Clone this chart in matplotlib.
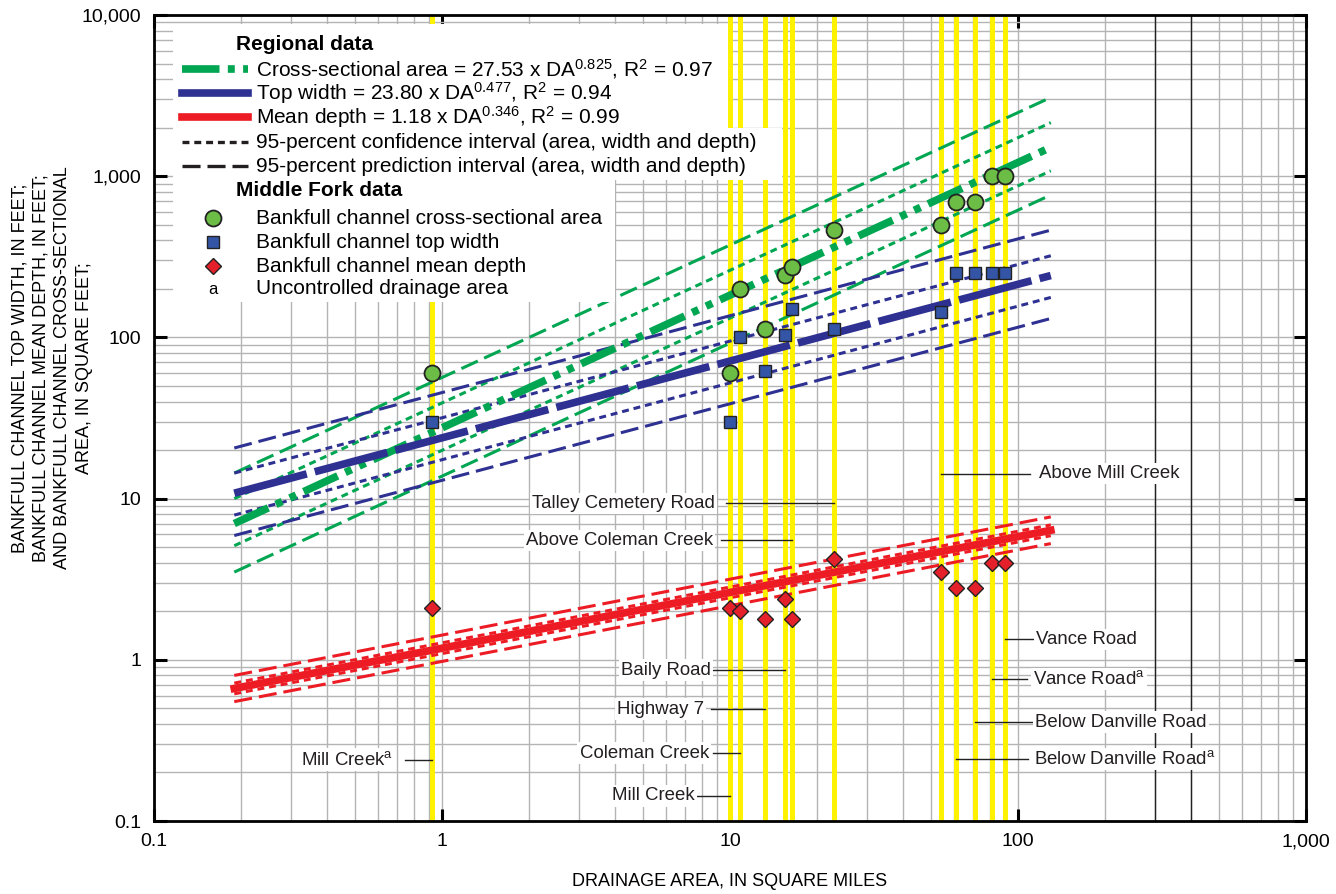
"""Bankfull channel geometry vs drainage area, Middle Fork."""
import matplotlib
matplotlib.use("Agg")
import matplotlib.pyplot as plt
from matplotlib.lines import Line2D
from matplotlib.patches import Rectangle
from matplotlib.ticker import FixedLocator, LogLocator, NullFormatter

plt.rcParams['font.family'] = ['Liberation Sans', 'DejaVu Sans']
plt.rcParams['mathtext.fontset'] = 'custom'
plt.rcParams['mathtext.rm'] = 'Liberation Sans'
plt.rcParams['mathtext.it'] = 'Liberation Sans:italic'
plt.rcParams['mathtext.bf'] = 'Liberation Sans:bold'
plt.rcParams['lines.scale_dashes'] = False

# --- Middle Fork stations (drainage area, sq mi) ---
station_da = [0.925, 10.0, 10.85, 13.2, 15.5, 16.4, 23.0, 54.0, 61.0, 71.0, 81.0, 90.0]
station_names = ["Mill Creek$^{\\rm a}$", "Mill Creek", "Coleman Creek", "Highway 7",
                 "Baily Road", "Above Coleman Creek", "Talley Cemetery Road",
                 "Above Mill Creek", "Below Danville Road$^{\\rm a}$",
                 "Below Danville Road", "Vance Road$^{\\rm a}$", "Vance Road"]
area = [60, 60, 200, 113, 245, 275, 465, 500, 690, 690, 1000, 1000]
top_width = [30, 30, 100, 62, 104, 151, 112, 143, 250, 250, 250, 250]
mean_depth = [2.1, 2.1, 2.0, 1.8, 2.4, 1.8, 4.2, 3.5, 2.8, 2.8, 4.0, 4.0]

# --- Regional curves, read at both ends of the line ---
fit_da = [0.19, 130]
area_fit = [7.0, 1510]
area_conf_hi = [10.0, 2150]
area_conf_lo = [5.1, 1080]
area_pred_hi = [14.4, 3080]
area_pred_lo = [3.5, 765]
width_fit = [10.8, 242]
width_conf_hi = [14.4, 321]
width_conf_lo = [7.9, 177]
width_pred_hi = [20.6, 463]
width_pred_lo = [5.9, 131]
depth_fit = [0.664, 6.36]
depth_conf_hi = [0.717, 6.87]
depth_conf_lo = [0.615, 5.89]
depth_pred_hi = [0.80, 7.7]
depth_pred_lo = [0.55, 5.26]

x_ticks = [0.1, 1, 10, 100, 1000]
x_ticklabels = ["0.1", "1", "10", "100", "1,000"]
y_ticks = [0.1, 1, 10, 100, 1000, 10000]
y_ticklabels = ["0.1", "1", "10", "100", "1,000", "10,000"]

GREEN = "#00A651"
BLUE = "#2E3192"
RED = "#ED1C24"
YELLOW = "#FFF200"

W, H = 1336, 894
fig = plt.figure(figsize=(W / 100, H / 100), dpi=100)
ax = fig.add_axes([154 / W, 1 - 821 / H, (1306 - 154) / W, (821 - 15) / H])
ax.set_xscale("log")
ax.set_yscale("log")
ax.set_xlim(0.1, 1000)
ax.set_ylim(0.1, 10000)

ax.xaxis.set_major_locator(FixedLocator(x_ticks))
ax.set_xticklabels(x_ticklabels)
ax.yaxis.set_major_locator(FixedLocator(y_ticks))
ax.set_yticklabels(y_ticklabels)
for a in (ax.xaxis, ax.yaxis):
    a.set_minor_locator(LogLocator(base=10, subs=range(2, 10), numticks=20))
    a.set_minor_formatter(NullFormatter())
ax.tick_params(which="major", direction="in", length=9, width=2.2,
               top=True, right=True, labelsize=14, pad=9)
ax.tick_params(which="minor", length=0)
ax.grid(which="both", color="#b4b4b4", lw=1.0)
ax.set_axisbelow(True)
for s in ax.spines.values():
    s.set_linewidth(2.0)

# station lines
for d in station_da:
    ax.axvline(d, color=YELLOW, lw=3.6, zorder=1)
for d in (300, 400):
    ax.axvline(d, color="#222222", lw=1.0, zorder=1.2)

conf_dash = (5, 3.5)
pred_dash = (13, 5)


def curves(fit, chi, clo, phi, plo, color, fit_style):
    for vals in (phi, plo):
        ax.plot(fit_da, vals, color=color, lw=2.2, dashes=pred_dash, zorder=3)
    for vals in (chi, clo):
        ax.plot(fit_da, vals, color=color, lw=2.2, dashes=conf_dash, zorder=3)
    ax.plot(fit_da, fit, color=color, lw=5.5, zorder=4, **fit_style)


curves(area_fit, area_conf_hi, area_conf_lo, area_pred_hi, area_pred_lo, GREEN,
       dict(dashes=(27, 6, 5, 6, 5, 6), solid_capstyle="butt"))
curves(width_fit, width_conf_hi, width_conf_lo, width_pred_hi, width_pred_lo, BLUE,
       dict(dashes=(54, 6)))
curves(depth_fit, depth_conf_hi, depth_conf_lo, depth_pred_hi, depth_pred_lo, RED,
       dict())

ax.plot(station_da, area, "o", ms=11.5, mfc="#6CBD45", mec="#222222", mew=1.3, zorder=6)
ax.plot(station_da, top_width, "s", ms=8.5, mfc="#3455A5", mec="#222222", mew=1.0, zorder=6)
ax.plot(station_da, mean_depth, "D", ms=8, mfc="#E4202A", mec="#222222", mew=1.0, zorder=6)

# station labels: (text edge DA, leader start DA, label height)
label_layout = [
    (0.676, 0.744, 0.24), (7.56, 7.6, 0.143), (8.45, 8.73, 0.264), (8.12, 8.59, 0.494),
    (8.59, 8.73, 0.862), (8.73, 9.31, 5.51), (8.87, 9.69, 9.33),
    (118, 110, 14.3), (114, 108.5, 0.242), (114.6, 112, 0.411),
    (113, 107.5, 0.758), (115.5, 113, 1.34),
]
for d, name, (tx, lx, ly) in zip(station_da, station_names, label_layout):
    ax.plot([lx, d], [ly, ly], color="#222222", lw=1.0, zorder=5)
    ax.text(tx, ly, name, ha="right" if tx < d else "left", va="center",
            fontsize=13.4, color="#231f20", zorder=5,
            bbox=dict(boxstyle="square,pad=0.12", fc="white", ec="none"))


# --- legend drawn in pixel coordinates ---
def fx(x):
    return x / W


def fy(y):
    return 1 - y / H


for x0, y0, x1, y1 in [(173, 24, 728, 128), (173, 128, 782, 180), (173, 180, 615, 302)]:
    fig.add_artist(Rectangle((fx(x0), fy(y1)), fx(x1) - fx(x0), fy(y0) - fy(y1),
                             fc="white", ec="none", zorder=1))

LFS = 15
LX0, LX1, TX, MX = 182, 248, 256, 213
rows_y = [45, 69, 93, 117, 142, 166, 191, 218, 242, 266, 289]
fig.text(fx(236), fy(rows_y[0]), "Regional data", fontsize=LFS, weight="bold",
         va="center", zorder=4)
legend_lines = [
    (GREEN, 5.5, (27, 6, 5, 6, 5, 6), "Cross-sectional area = 27.53 x DA$^{0.825}$, R$^{2}$ = 0.97"),
    (BLUE, 5.5, None, "Top width = 23.80 x DA$^{0.477}$, R$^{2}$ = 0.94"),
    (RED, 5.5, None, "Mean depth = 1.18 x DA$^{0.346}$, R$^{2}$ = 0.99"),
    ("#231f20", 2.4, conf_dash, "95-percent confidence interval (area, width and depth)"),
    ("#231f20", 2.4, pred_dash, "95-percent prediction interval (area, width and depth)"),
]
for (c, lw, dash, txt), yy in zip(legend_lines, rows_y[1:6]):
    ln = Line2D([fx(LX0), fx(LX1)], [fy(yy), fy(yy)], color=c, lw=lw, zorder=3)
    if dash:
        ln.set_dashes(dash)
    fig.add_artist(ln)
    fig.text(fx(TX), fy(yy), txt, fontsize=LFS, va="center", zorder=4)

fig.text(fx(236), fy(rows_y[6]), "Middle Fork data", fontsize=LFS, weight="bold",
         va="center", zorder=4)
marker_rows = [
    (dict(marker="o", ms=11.5, mfc="#6CBD45", mec="#222222", mew=1.3), "Bankfull channel cross-sectional area"),
    (dict(marker="s", ms=8.5, mfc="#3455A5", mec="#222222", mew=1.0), "Bankfull channel top width"),
    (dict(marker="D", ms=8, mfc="#E4202A", mec="#222222", mew=1.0), "Bankfull channel mean depth"),
]
for (style, txt), yy in zip(marker_rows, rows_y[7:10]):
    fig.add_artist(Line2D([fx(MX)], [fy(yy)], ls="none", zorder=3, **style))
    fig.text(fx(TX), fy(yy), txt, fontsize=LFS, va="center", zorder=4)
fig.text(fx(MX), fy(rows_y[10]), "a", fontsize=12, ha="center", va="center", zorder=4)
fig.text(fx(TX), fy(rows_y[10]), "Uncontrolled drainage area", fontsize=LFS, va="center", zorder=4)

# axis titles
fig.text(fx(52), fy(368),
         "BANKFULL CHANNEL TOP WIDTH, IN FEET;\nBANKFULL CHANNEL MEAN DEPTH, IN FEET;\n"
         "AND BANKFULL CHANNEL CROSS-SECTIONAL\nAREA, IN SQUARE FEET;",
         rotation=90, ha="center", va="center", multialignment="center",
         fontsize=13, linespacing=1.35)
fig.text(fx(730), fy(882), "DRAINAGE AREA, IN SQUARE MILES", ha="center", va="center",
         fontsize=13)

fig.savefig("out.png", dpi=100)
